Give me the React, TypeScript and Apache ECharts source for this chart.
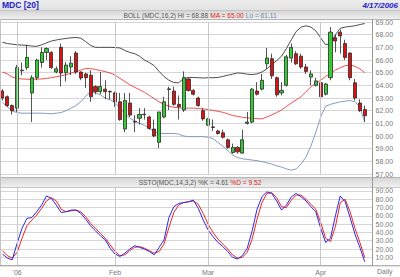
import React, { useEffect, useRef } from 'react';
import * as echarts from 'echarts';

const dates = [
  '2005-12-28', '2005-12-29', '2005-12-30',
  '2006-01-03', '2006-01-04', '2006-01-05', '2006-01-06', '2006-01-09', '2006-01-10', '2006-01-11', '2006-01-12', '2006-01-13',
  '2006-01-17', '2006-01-18', '2006-01-19', '2006-01-20', '2006-01-23', '2006-01-24', '2006-01-25', '2006-01-26', '2006-01-27',
  '2006-01-30', '2006-01-31',
  '2006-02-01', '2006-02-02', '2006-02-03', '2006-02-06', '2006-02-07', '2006-02-08', '2006-02-09', '2006-02-10', '2006-02-13',
  '2006-02-14', '2006-02-15', '2006-02-16', '2006-02-17', '2006-02-21', '2006-02-22', '2006-02-23', '2006-02-24', '2006-02-27',
  '2006-02-28',
  '2006-03-01', '2006-03-02', '2006-03-03', '2006-03-06', '2006-03-07', '2006-03-08', '2006-03-09', '2006-03-10', '2006-03-13',
  '2006-03-14', '2006-03-15', '2006-03-16', '2006-03-17', '2006-03-20', '2006-03-21', '2006-03-22', '2006-03-23', '2006-03-24',
  '2006-03-27', '2006-03-28', '2006-03-29', '2006-03-30', '2006-03-31',
  '2006-04-03', '2006-04-04', '2006-04-05', '2006-04-06', '2006-04-07', '2006-04-10', '2006-04-11', '2006-04-12', '2006-04-13',
  '2006-04-17',
];

const opens = [
  63.55, 63.1, 62.4, 62.2, 65.15, 65.4, 63.4, 64.6, 65.8, 66.6,
  66.6, 65.05, 67.0, 65.0, 65.45, 66.55, 65.05, 64.9, 64.8, 63.9,
  63.5, 63.7, 63.52, 63.4, 62.7, 60.55, 62.6, 61.15, 61.4, 61.72,
  61.5, 60.55, 59.5, 61.5, 63.72, 63.55, 62.5, 62.05, 64.5, 63.6,
  63.0, 62.0, 60.85, 60.72, 60.4, 60.25, 59.7, 58.7, 59.1, 58.65,
  61.0, 61.1, 63.55, 63.7, 65.7, 66.1, 64.6, 63.4, 64.0, 66.15,
  66.5, 66.3, 65.45, 64.65, 64.0, 64.2, 63.3, 64.6, 67.75, 68.2,
  67.3, 66.55, 64.2, 62.6, 62.1,
];
const closes = [
  63.0, 62.4, 62.0, 65.4, 65.2, 66.2, 64.6, 66.0, 66.6, 66.9,
  65.4, 65.3, 64.97, 65.6, 65.75, 65.05, 64.58, 64.6, 63.1, 63.5,
  63.9, 63.5, 63.48, 62.7, 61.3, 62.8, 61.65, 61.1, 61.7, 61.68,
  60.6, 60.0, 61.9, 62.7, 63.68, 62.5, 62.3, 64.6, 63.6, 63.3,
  62.4, 61.35, 61.35, 60.68, 60.2, 59.9, 59.1, 59.1, 58.75, 59.7,
  61.1, 63.7, 63.3, 64.4, 66.15, 64.75, 63.25, 63.6, 66.25, 67.0,
  65.7, 65.45, 65.1, 64.9, 64.35, 63.1, 64.1, 68.2, 67.5, 67.9,
  66.2, 64.6, 63.0, 62.0, 61.6,
];
const lows = [
  62.8, 62.3, 61.7, 61.9, 64.8, 65.2, 61.1, 64.4, 65.4, 66.0,
  65.3, 64.95, 63.9, 64.3, 64.8, 64.9, 64.4, 63.8, 62.7, 63.3,
  63.3, 62.9, 62.9, 62.3, 61.2, 60.3, 61.5, 60.3, 60.9, 61.3,
  60.5, 59.9, 59.05, 61.4, 62.05, 62.4, 61.3, 61.9, 63.5, 63.2,
  62.3, 61.2, 60.8, 60.4, 60.1, 59.8, 59.0, 58.6, 58.6, 58.6,
  60.9, 61.0, 63.2, 63.6, 65.3, 64.5, 63.1, 63.2, 63.9, 65.8,
  65.6, 65.3, 64.9, 64.0, 63.9, 62.8, 63.2, 64.4, 66.6, 66.5,
  66.0, 64.4, 62.8, 61.9, 61.1,
];
const highs = [
  63.7, 63.2, 62.5, 65.6, 65.8, 67.2, 64.8, 66.1, 67.0, 67.0,
  66.7, 65.5, 67.3, 65.85, 66.3, 66.7, 65.1, 65.0, 65.2, 64.0,
  65.05, 64.4, 63.6, 63.5, 63.4, 63.4, 63.4, 61.65, 62.2, 62.2,
  61.6, 61.3, 61.9, 63.1, 63.9, 63.9, 63.2, 65.1, 64.6, 63.7,
  63.1, 62.2, 61.4, 61.3, 60.5, 60.5, 59.8, 59.4, 59.2, 60.5,
  61.9, 63.8, 64.25, 64.9, 66.95, 66.5, 64.7, 64.25, 66.4, 67.3,
  66.7, 66.5, 65.7, 65.2, 64.6, 64.6, 64.2, 68.6, 68.0, 68.4,
  67.6, 66.6, 64.5, 62.9, 62.4,
];

const bollUpper = [
  67.4, 67.3, 67.25, 67.2, 67.18, 67.15, 67.1, 67.08, 67.2, 67.35,
  67.5, 67.58, 67.65, 67.7, 67.75, 67.78, 67.72, 67.45, 67.15, 67.0,
  67.0, 67.0, 67.0, 66.98, 66.95, 66.75, 66.6, 66.5, 66.3, 66.0,
  65.8, 65.55, 65.1, 64.7, 64.4, 64.22, 64.2, 64.55, 64.62, 64.62,
  64.6, 64.58, 64.6, 64.6, 64.62, 64.7, 64.8, 64.88, 64.98, 64.95,
  64.88, 64.85, 64.9, 65.05, 65.3, 65.65, 65.95, 66.3, 66.9, 67.6,
  68.25, 68.6, 68.7, 68.6, 68.3, 67.75, 67.2, 67.3, 68.0, 68.5,
  68.6, 68.65, 68.7, 68.8, 68.88,
];
const bollMid = [
  65.05, 64.9, 64.65, 64.55, 64.5, 64.48, 64.48, 64.49, 64.5, 64.55,
  64.6, 64.68, 64.75, 64.85, 64.96, 65.08, 65.2, 65.33, 65.32, 65.25,
  65.17, 65.08, 64.98, 64.8, 64.55, 64.3, 64.05, 63.85, 63.65, 63.45,
  63.2, 62.95, 62.7, 62.5, 62.35, 62.27, 62.22, 62.2, 62.2, 62.2,
  62.17, 62.14, 62.08, 62.02, 61.95, 61.87, 61.75, 61.62, 61.55, 61.48,
  61.43, 61.4, 61.37, 61.35, 61.5, 61.67, 61.85, 62.05, 62.33, 62.6,
  62.85, 63.1, 63.5, 63.88, 64.15, 64.4, 64.7, 64.95, 65.2, 65.4,
  65.55, 65.6, 65.5, 65.3, 65.0,
];
const bollLower = [
  62.65, 62.3, 61.98, 61.85, 61.8, 61.8, 61.8, 61.8, 61.8, 61.78,
  61.75, 61.8, 61.85, 62.0, 62.2, 62.4, 62.7, 63.15, 63.45, 63.4,
  63.25, 63.0, 62.85, 62.65, 62.2, 61.8, 61.4, 61.2, 61.0, 60.85,
  60.6, 60.35, 60.2, 60.2, 60.2, 60.2, 60.15, 60.0, 59.95, 59.95,
  59.95, 59.95, 59.9, 59.8, 59.5, 59.2, 58.85, 58.5, 58.3, 58.2,
  58.15, 58.1, 58.05, 57.98, 57.88, 57.78, 57.65, 57.55, 57.4, 57.3,
  57.4, 57.8, 58.35, 59.2, 60.3, 61.5, 62.35, 62.5, 62.6, 62.7,
  62.75, 62.8, 62.7, 62.3, 61.11,
];

const stochK = [
  14, 9, 7, 27, 45, 57, 58, 65, 73, 84,
  81, 73, 64, 65, 67, 67, 63, 56, 48, 42,
  36, 31, 21, 14, 11, 15, 20, 24, 22, 20,
  17, 13, 22, 31, 58, 71, 75, 76, 77, 79,
  69, 55, 43, 35, 28, 23, 17, 10, 8, 12,
  21, 42, 68, 83, 89, 87, 78, 67, 73, 83,
  87, 83, 78, 71, 65, 45, 28, 33, 60, 84,
  77, 58, 38, 22, 4.61,
];
const stochD = [
  18, 12, 9, 16, 33, 48, 55, 61, 69, 78,
  82, 78, 68, 65, 66, 67, 65, 59, 51, 45,
  39, 33, 25, 17, 12, 13, 18, 22, 23, 21,
  18, 15, 17, 26, 46, 64, 73, 76, 77, 78,
  74, 63, 50, 40, 32, 26, 20, 13, 9, 10,
  16, 32, 56, 76, 87, 88, 82, 71, 70, 79,
  85, 85, 80, 74, 68, 52, 33, 29, 47, 76,
  80, 65, 45, 28, 9.52,
];

const monthStartIdx = [3, 23, 42, 65];
const monthLabels = ["'06", 'Feb', 'Mar', 'Apr'];

const FONT = '"Liberation Sans", Arial, sans-serif';

export default function App() {
  const ref = useRef<HTMLDivElement>(null);

  useEffect(() => {
    document.body.style.margin = '0';
    const chart = echarts.init(ref.current!, null, { renderer: 'svg', width: 400, height: 277 });

    const candleData = opens.map((o, i) => [o, closes[i], lows[i], highs[i]]);
    const gridLineColor = '#d6d6d6';
    const vlines = monthStartIdx.map((i) => ({ xAxis: i }));
    const markLineCfg = {
      silent: true,
      symbol: ['none', 'none'],
      label: { show: false },
      lineStyle: { color: '#c8c8c8', width: 1, type: 'solid' },
      data: vlines,
    };

    const barGrad = (c1: string, c2: string) =>
      new echarts.graphic.LinearGradient(0, 0, 0, 1, [
        { offset: 0, color: c1 },
        { offset: 1, color: c2 },
      ]);

    const option: any = {
      animation: false,
      backgroundColor: '#ffffff',
      textStyle: { fontFamily: FONT },
      grid: [
        { left: -1.5, top: 22, width: 373.6, height: 152 },
        { left: -1.5, top: 182.7, width: 373.6, height: 82.9 },
      ],
      xAxis: [
        {
          type: 'category', gridIndex: 0, data: dates, boundaryGap: true, max: 75,
          axisLine: { show: false }, axisTick: { show: false }, axisLabel: { show: false }, splitLine: { show: false },
        },
        {
          type: 'category', gridIndex: 1, data: dates, boundaryGap: true, max: 75,
          axisLine: { show: false }, axisTick: { show: false }, splitLine: { show: false },
          axisLabel: {
            show: true,
            interval: (idx: number) => monthStartIdx.indexOf(idx) >= 0,
            formatter: (_v: string, idx: number) => {
              const k = monthStartIdx.indexOf(idx);
              return k >= 0 ? monthLabels[k] : '';
            },
            fontSize: 7, color: '#7a7a7a', margin: 3, fontFamily: FONT,
          },
        },
      ],
      yAxis: [
        {
          type: 'value', gridIndex: 0, position: 'right', min: 57, max: 69, interval: 1,
          axisLine: { show: false }, axisTick: { show: false },
          axisLabel: { fontSize: 7, color: '#7a7a7a', margin: 3.5, fontFamily: FONT, formatter: (v: number) => v.toFixed(2) },
          splitLine: { show: true, lineStyle: { color: gridLineColor, width: 1 } },
        },
        {
          type: 'value', gridIndex: 1, position: 'right', min: 0, max: 100, interval: 10,
          axisLine: { show: false }, axisTick: { show: false },
          axisLabel: {
            fontSize: 7, color: '#7a7a7a', margin: 3.5, fontFamily: FONT,
            formatter: (v: number) => (v <= 0 || v >= 100 ? '' : v.toFixed(2)),
          },
          splitLine: { show: true, lineStyle: { color: gridLineColor, width: 1 } },
        },
      ],
      series: [
        {
          type: 'line', xAxisIndex: 0, yAxisIndex: 0, data: [], z: 1, markLine: markLineCfg,
        },
        {
          type: 'line', xAxisIndex: 1, yAxisIndex: 1, data: [], z: 1, markLine: markLineCfg,
        },
        {
          name: 'upper', type: 'line', xAxisIndex: 0, yAxisIndex: 0, data: bollUpper, showSymbol: false, z: 2,
          lineStyle: { color: '#3a3a3a', width: 0.9 },
        },
        {
          name: 'ma', type: 'line', xAxisIndex: 0, yAxisIndex: 0, data: bollMid, showSymbol: false, z: 2,
          lineStyle: { color: '#ee3b3b', width: 0.9 },
        },
        {
          name: 'lower', type: 'line', xAxisIndex: 0, yAxisIndex: 0, data: bollLower, showSymbol: false, z: 2,
          lineStyle: { color: '#7b8fb5', width: 0.9 },
        },
        {
          name: 'price', type: 'candlestick', xAxisIndex: 0, yAxisIndex: 0, data: candleData, z: 3,
          barWidth: 3.6,
          itemStyle: {
            color: '#33cc33', color0: '#dd1111',
            borderColor: '#2a2a2a', borderColor0: '#2a2a2a', borderWidth: 0.8,
          },
        },
        {
          name: '%D', type: 'line', xAxisIndex: 1, yAxisIndex: 1, data: stochD, showSymbol: false, z: 3,
          lineStyle: { color: '#ee2222', width: 1 },
        },
        {
          name: '%K', type: 'line', xAxisIndex: 1, yAxisIndex: 1, data: stochK, showSymbol: false, z: 4,
          lineStyle: { color: '#2a2ae6', width: 1 },
        },
      ],
      graphic: [
        { type: 'rect', z: 50, shape: { x: 0, y: 0, width: 400, height: 10 }, style: { fill: barGrad('#eeeeee', '#e2e2e2') } },
        { type: 'line', z: 51, shape: { x1: 0, y1: 10.5, x2: 400, y2: 10.5 }, style: { stroke: '#c4c4c4', lineWidth: 1 } },
        { type: 'rect', z: 50, shape: { x: 0, y: 11, width: 400, height: 8 }, style: { fill: barGrad('#d6d6d6', '#f0f0f0') } },
        { type: 'line', z: 51, shape: { x1: 0, y1: 19.5, x2: 400, y2: 19.5 }, style: { stroke: '#b4b4b4', lineWidth: 1 } },
        {
          type: 'text', z: 60, x: 2, y: 5,
          style: { text: 'MDC [20]', fill: '#2222cc', fontSize: 8.5, fontWeight: 'bold', fontFamily: FONT, verticalAlign: 'middle', textAlign: 'left' },
        },
        {
          type: 'text', z: 60, x: 398, y: 5,
          style: { text: '4/17/2006', fill: '#2222cc', fontSize: 8, fontWeight: 'bold', fontStyle: 'italic', fontFamily: FONT, verticalAlign: 'middle', textAlign: 'right' },
        },
        {
          type: 'text', z: 60, x: 200, y: 15,
          style: {
            text: '{a|BOLL (MDC,16,2) Hi = 68.88 }{b|MA = 65.00 }{c|Lo = 61.11}',
            textAlign: 'center', verticalAlign: 'middle',
            rich: {
              a: { fill: '#555555', fontSize: 6.6, fontFamily: FONT },
              b: { fill: '#dd2222', fontSize: 6.6, fontFamily: FONT },
              c: { fill: '#6f86b0', fontSize: 6.6, fontFamily: FONT },
            },
          },
        },
        { type: 'line', z: 51, shape: { x1: 0, y1: 177.5, x2: 400, y2: 177.5 }, style: { stroke: '#b4b4b4', lineWidth: 1 } },
        { type: 'rect', z: 50, shape: { x: 0, y: 178, width: 400, height: 9 }, style: { fill: barGrad('#d6d6d6', '#f0f0f0') } },
        { type: 'line', z: 51, shape: { x1: 0, y1: 187.5, x2: 400, y2: 187.5 }, style: { stroke: '#c8c8c8', lineWidth: 1 } },
        {
          type: 'text', z: 60, x: 200, y: 182.8,
          style: {
            text: '{a|SSTO(MDC,14,3,2) %K = 4.61 }{b|%D = 9.52}',
            textAlign: 'center', verticalAlign: 'middle',
            rich: {
              a: { fill: '#555555', fontSize: 6.6, fontFamily: FONT },
              b: { fill: '#dd2222', fontSize: 6.6, fontFamily: FONT },
            },
          },
        },
        { type: 'line', z: 51, shape: { x1: 372.5, y1: 19, x2: 372.5, y2: 266 }, style: { stroke: '#9a9a9a', lineWidth: 1 } },
        { type: 'line', z: 51, shape: { x1: 0.5, y1: 19, x2: 0.5, y2: 266 }, style: { stroke: '#c4c4c4', lineWidth: 1 } },
        { type: 'line', z: 51, shape: { x1: 0, y1: 265.8, x2: 400, y2: 265.8 }, style: { stroke: '#9a9a9a', lineWidth: 1 } },
        {
          type: 'text', z: 60, x: 377, y: 271.5,
          style: { text: 'Daily', fill: '#7a7a7a', fontSize: 7, fontFamily: FONT, verticalAlign: 'middle', textAlign: 'left' },
        },
      ],
    };

    chart.setOption(option);
    return () => chart.dispose();
  }, []);

  return (
    <div
      ref={ref}
      style={{ position: 'absolute', left: 0, top: 0, width: 400, height: 277, background: '#fff' }}
    />
  );
}
